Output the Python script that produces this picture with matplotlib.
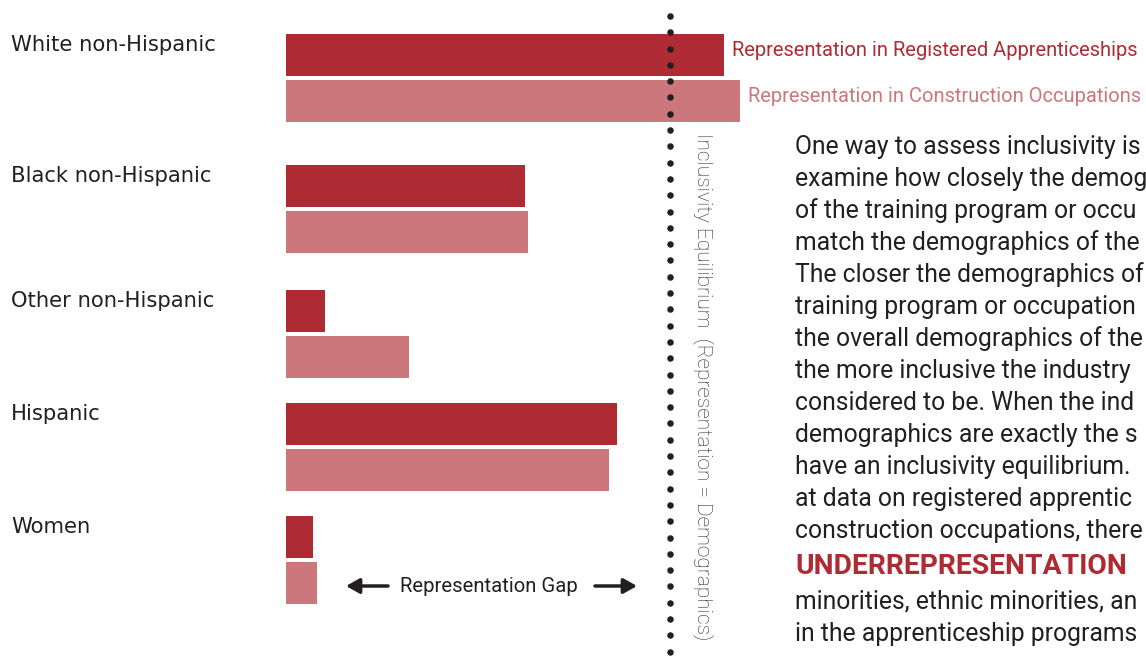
import matplotlib
matplotlib.use("Agg")
import matplotlib.pyplot as plt
import numpy as np

# ---- data (representation index, 100 = inclusivity equilibrium) ----
categories = ["White non-Hispanic", "Black non-Hispanic", "Other non-Hispanic", "Hispanic", "Women"]
apprenticeships = [114.1, 62.2, 10.2, 86.2, 7.0]
construction = [118.2, 63.0, 32.0, 84.1, 8.1]
equilibrium = 100
series_labels = ["Representation in Registered Apprenticeships", "Representation in Construction Occupations"]

# visible portion of the explanatory paragraph (cropped at the right edge in the source)
paragraph = [
    "One way to assess inclusivity is",
    "examine how closely the demog",
    "of the training program or occu",
    "match the demographics of the",
    "The closer the demographics of",
    "training program or occupation",
    "the overall demographics of the",
    "the more inclusive the industry",
    "considered to be. When the ind",
    "demographics are exactly the s",
    "have an inclusivity equilibrium.",
    "at data on registered apprentic",
    "construction occupations, there",
]
highlight = "UNDERREPRESENTATION"
paragraph_tail = [
    "minorities, ethnic minorities, an",
    "in the apprenticeship programs",
]

# ---- layout ----
W, H = 1146, 656
X0 = 286            # pixel where bars start
SCALE = 3.84        # pixels per unit
dark_tops = [34, 165, 290, 403, 516]
BAR_H = 42
DARK = "#ae2b33"
LIGHT = "#cb777b"
TXT = "#231f20"

fig = plt.figure(figsize=(W / 100, H / 100), dpi=100)
ax = fig.add_axes([0, 0, 1, 1])
ax.set_xlim(-X0 / SCALE, (W - X0) / SCALE)
ax.set_ylim(H, 0)
ax.axis("off")

def px(x):
    return (x - X0) / SCALE

dark_c = np.array(dark_tops) + BAR_H / 2
light_c = dark_c + 46
ax.barh(dark_c, apprenticeships, height=BAR_H, left=0, color=DARK)
ax.barh(light_c, construction, height=BAR_H, left=0, color=LIGHT)

for cat, yc in zip(categories, dark_c):
    ax.text(px(11), yc - 10, cat, fontsize=15.2, color=TXT, family="DejaVu Sans",
            va="center", ha="left")

# legend-like labels next to the first group
ax.text(apprenticeships[0] + px(732) - px(724), dark_c[0] - 5, series_labels[0],
        fontsize=14.5, color=DARK, family="Roboto", va="center", ha="left")
ax.text(construction[0] + px(748) - px(740), light_c[0] - 4, series_labels[1],
        fontsize=14.5, color=LIGHT, family="Roboto", va="center", ha="left")

# dotted equilibrium line
dots_y = np.arange(16, H + 10, 16.3)
ax.scatter(np.full_like(dots_y, equilibrium), dots_y, s=22, color=TXT, zorder=3, linewidths=0)
ax.text(px(703), 133, "Inclusivity Equilibrium  (Representation = Demographics)",
        rotation=270, fontsize=15, color="#2a2a2a", family="Roboto", fontweight="light",
        va="top", ha="center")

# representation gap arrows
arrow = dict(arrowstyle="-|>,head_length=0.8,head_width=0.45", color=TXT, lw=2.5,
             shrinkA=0, shrinkB=0)
ax.annotate("", xy=(px(346), 586), xytext=(px(388), 586), arrowprops=arrow)
ax.annotate("", xy=(px(637), 586), xytext=(px(595), 586), arrowprops=arrow)
ax.text(px(489), 586, "Representation Gap", fontsize=14.6, color=TXT, family="Roboto",
        va="center", ha="center")

# paragraph
y = 147
for line in paragraph:
    ax.text(px(795), y, line, fontsize=17.8, color=TXT, family="Roboto", va="center", ha="left")
    y += 32
ax.text(px(795), 567, highlight, fontsize=20.3, color=DARK, family="Roboto", fontweight="bold",
        va="center", ha="left")
y = 602
for line in paragraph_tail:
    ax.text(px(795), y, line, fontsize=17.8, color=TXT, family="Roboto", va="center", ha="left")
    y += 32

fig.savefig("out.png", dpi=100, facecolor="white")
